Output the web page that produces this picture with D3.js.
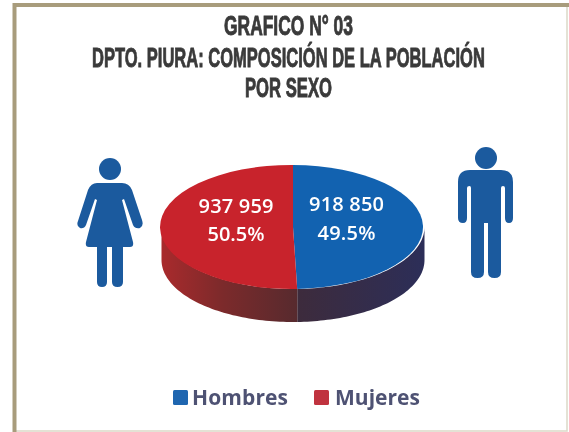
<!DOCTYPE html>
<html><head><meta charset="utf-8">
<script src="https://cdn.jsdelivr.net/npm/d3@7"></script>
<style>html,body{margin:0;padding:0;background:#fff}svg{display:block;filter:blur(0.45px)}</style>
</head><body><svg id="c" width="569" height="432"></svg>
<script>
const categories = ["Hombres", "Mujeres"];
const values = [918850, 937959];
const valueLabels = ["918 850", "937 959"];
const percentLabels = ["49.5%", "50.5%"];
const titleLines = ["GRAFICO N° 03", "DPTO. PIURA: COMPOSICIÓN DE LA POBLACIÓN", "POR SEXO"];
const topColors = ["#1262b0", "#c8232c"];
const legendColors = ["#1f66b0", "#c0333f"];

const svg = d3.select("#c");
const cx = 293, cy = 227, rx = 131.5, ry = 62, depth = 33;

// frame
svg.append("rect").attr("width",569).attr("height",432).attr("fill","#fff");
svg.append("path").attr("d","M567 5V431H15").attr("fill","none").attr("stroke","#dcd9c8").attr("stroke-width",1.5);
svg.append("path").attr("d","M14.5 432V5H569").attr("fill","none").attr("stroke","#a89c7c").attr("stroke-width",4);

// title: condensed by measuring each line and scaling it to its width
const titleBoxes = [[224,353,35],[92,485,67],[245,332,97]];
svg.selectAll("text.t").data(titleLines).join("text").attr("class","t")
  .attr("font-family","'Liberation Sans Narrow','Liberation Sans',sans-serif")
  .attr("font-weight","bold").attr("font-size",27).attr("fill","#3a3a3a")
  .attr("stroke","#3a3a3a").attr("stroke-width",0.9)
  .text(d=>d)
  .each(function(d,i){
    const b = titleBoxes[i], w = this.getComputedTextLength();
    d3.select(this).attr("transform",`translate(${b[0]},${b[2]}) scale(${(b[1]-b[0])/w},1)`);
  });

// pie
const pie = d3.pie().sort(null).value(d=>d)(values);
const arc = d3.arc().innerRadius(0).outerRadius(1);
const defs = svg.append("defs");
const g1 = defs.append("linearGradient").attr("id","wb").attr("x1",0).attr("x2",1).attr("y1",0).attr("y2",0);
g1.append("stop").attr("offset",0).attr("stop-color","#3d2b3c");
g1.append("stop").attr("offset",1).attr("stop-color","#2c2e58");
const g2 = defs.append("linearGradient").attr("id","wr").attr("x1",0).attr("x2",1).attr("y1",0).attr("y2",0);
g2.append("stop").attr("offset",0).attr("stop-color","#a92a2c");
g2.append("stop").attr("offset",0.45).attr("stop-color","#7c2a2b");
g2.append("stop").attr("offset",1).attr("stop-color","#572a2e");
const wallFill = ["url(#wb)","url(#wr)"];

const x = d3.scaleLinear().domain([-1,1]).range([cx-rx,cx+rx]);
const y = d3.scaleLinear().domain([-1,1]).range([cy-ry,cy+ry]);
pie.forEach((p,i)=>{
  const a0 = Math.max(p.startAngle, Math.PI/2), a1 = Math.min(p.endAngle, Math.PI*1.5);
  const angles = d3.range(0,61).map(k=>a0+(a1-a0)*k/60);
  const topEdge = angles.map(a=>[x(Math.sin(a)),y(-Math.cos(a))]);
  const botEdge = angles.slice().reverse().map(a=>[x(Math.sin(a)),y(-Math.cos(a))+depth]);
  svg.append("path").attr("d",d3.line()(topEdge.concat(botEdge))+"Z").attr("fill",wallFill[i]);
});
svg.append("g").attr("transform",`translate(${cx},${cy}) scale(${rx},${ry})`)
  .selectAll("path").data(pie).join("path").attr("d",arc).attr("fill",(d,i)=>topColors[i]);

// slice labels
const labelX = [346.5,236], labelY1 = [211,213], labelY2 = [240,241], labelW = [75,75], pctW = [58,57];
values.forEach((v,i)=>{
  [[valueLabels[i],labelY1[i],labelW[i]],[percentLabels[i],labelY2[i],pctW[i]]].forEach(([t,yy,w])=>{
    svg.append("text").attr("x",labelX[i]-w/2).attr("y",yy)
      .attr("textLength",w).attr("lengthAdjust","spacing")
      .attr("font-family","'Open Sans',sans-serif").attr("font-weight",600).attr("font-size",20).attr("fill","#fff").text(t);
  });
});

// legend
const legendX = [173,314], legendText = [192,335], legendW = [96,85];
categories.forEach((c,i)=>{
  svg.append("rect").attr("x",legendX[i]).attr("y",390).attr("width",15).attr("height",15).attr("rx",1.5).attr("fill",legendColors[i]);
  svg.append("text").attr("x",legendText[i]).attr("y",404.5).attr("textLength",legendW[i]).attr("lengthAdjust","spacing")
    .attr("font-family","'Open Sans',sans-serif")
    .attr("font-weight",700).attr("font-size",21).attr("fill","#4e5273").text(c);
});

// pictograms
const ic = "#1b5a9e";
const man = svg.append("g").attr("fill",ic);
man.append("circle").attr("cx",486).attr("cy",158).attr("r",11);
man.append("path").attr("d","M470 170H501Q513 170 513 182V218Q513 223 509 223Q505 223 505 218V188Q505 186 503 186Q501 186 501 188V272Q501 278 494.5 278Q488 278 488 272V223H484V272Q484 278 477.5 278Q471 278 471 272V188Q471 186 469.5 186Q467 186 467 188V218Q467 223 463 223Q458 223 458 218V182Q458 170 470 170Z");
const woman = svg.append("g").attr("fill",ic);
woman.append("circle").attr("cx",110).attr("cy",169).attr("r",11);
woman.append("path").attr("d","M97 183H122Q129 183 132 190L142 220Q144 226 140 228Q135 229 133 225L124 199L122 200L133 242Q134 247 130 247H123V282Q123 287 117.5 287Q112 287 112 282V247H107V282Q107 287 102 287Q97 287 97 282V247H89Q85 247 86 242L97 200L95 199L86 225Q84 229 80 228Q76 226 78 221L88 190Q91 183 97 183Z");
</script></body></html>
